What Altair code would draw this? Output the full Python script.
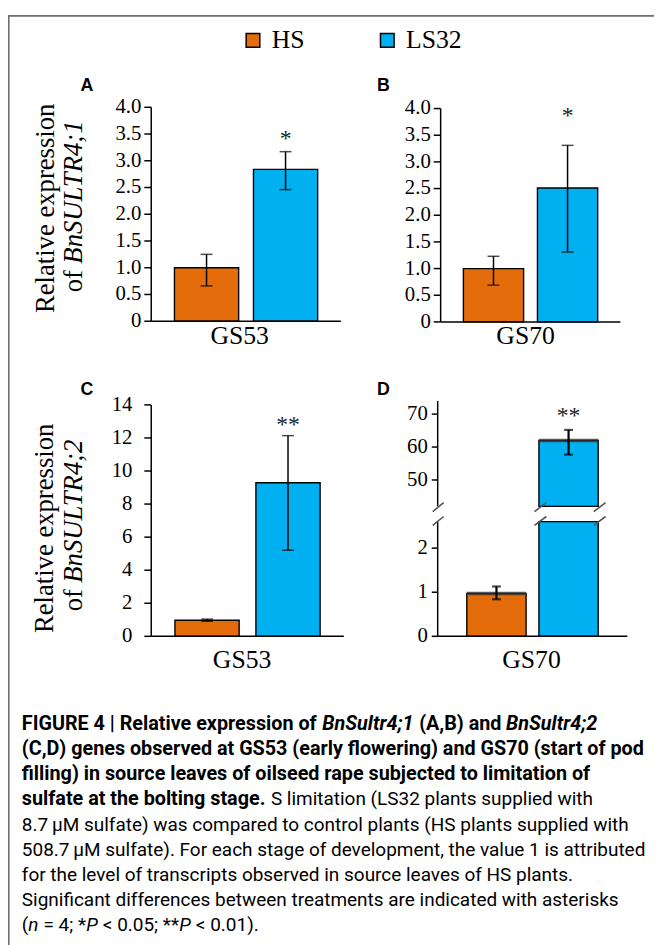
import altair as alt
import pandas as pd

# ---------------- data ----------------
treatments = ["HS", "LS32"]
bar_colors = ["#E46C0A", "#00B0F0"]

# Panel A: BnSULTR4;1, GS53
a_mean = [1.00, 2.84]
a_low = [0.66, 2.46]
a_high = [1.25, 3.17]
# Panel B: BnSULTR4;1, GS70
b_mean = [1.00, 2.51]
b_low = [0.69, 1.31]
b_high = [1.23, 3.31]
# Panel C: BnSULTR4;2, GS53
c_mean = [0.97, 9.29]
c_low = [0.91, 5.21]
c_high = [1.04, 12.14]
# Panel D: BnSULTR4;2, GS70
d_mean = [0.97, 62.0]
d_low = [0.84, 57.7]
d_high = [1.13, 65.2]

sig_ab = ["", "*"]
sig_cd = ["", "**"]

stages = ["GS53", "GS70"]
letters = ["A", "B", "C", "D"]
genes = ["BnSULTR4;1", "BnSULTR4;2"]
ylabel_main = "Relative expression"

ticks_ab = [0, 0.5, 1.0, 1.5, 2.0, 2.5, 3.0, 3.5, 4.0]
labels_ab = ["0", "0.5", "1.0", "1.5", "2.0", "2.5", "3.0", "3.5", "4.0"]
ticks_c = [0, 2, 4, 6, 8, 10, 12, 14]
labels_c = ["0", "2", "4", "6", "8", "10", "12", "14"]
ticks_d_low = [0, 1, 2]
labels_d_low = ["0", "1", "2"]
ticks_d_up = [50, 60, 70]
labels_d_up = ["50", "60", "70"]

caption = [
    [("FIGURE 4 | Relative expression of", "bold", "normal"), ("BnSultr4;1", "bold", "italic"),
     ("(A,B) and", "bold", "normal"), ("BnSultr4;2", "bold", "italic")],
    [("(C,D) genes observed at GS53 (early flowering) and GS70 (start of pod", "bold", "normal")],
    [("filling) in source leaves of oilseed rape subjected to limitation of", "bold", "normal")],
    [("sulfate at the bolting stage.", "bold", "normal"), ("S limitation (LS32 plants supplied with", "normal", "normal")],
    [("8.7\u2009\u03bcM sulfate) was compared to control plants (HS plants supplied with", "normal", "normal")],
    [("508.7\u2009\u03bcM sulfate). For each stage of development, the value 1 is attributed", "normal", "normal")],
    [("for the level of transcripts observed in source leaves of HS plants.", "normal", "normal")],
    [("Significant differences between treatments are indicated with asterisks", "normal", "normal")],
    [("(", "normal", "normal"), ("n", "normal", "italic"), ("= 4; *", "normal", "normal"), ("P", "normal", "italic"),
     ("< 0.05; **", "normal", "normal"), ("P", "normal", "italic"), ("< 0.01).", "normal", "normal")],
]
# segments that follow the previous one with a word space between them
cap_space = {(0, 1), (0, 2), (0, 3), (3, 1), (8, 2), (8, 4), (8, 6)}

# ---------------- layout ----------------
W, H = 654, 937
SERIF = "Liberation Serif"
SANS = "Liberation Sans"
CAPFONT = "Roboto"
CAP_BOLD = 20
CAP_REG = 19.2
TICKSIZE = 21

# approximate Roboto advance widths (em) to chain mixed-style caption segments
_w = {" ": .248, ".": .263, ",": .197, ";": .212, ":": .242, "(": .342, ")": .348, "|": .243,
      "*": .431, "=": .549, "<": .508, "\u2009": .12, "\u03bc": .57}
_w.update({c: .562 for c in "0123456789"})
_w.update(dict(zip("abcdefghijklmnopqrstuvwxyz",
                   [.544, .561, .523, .564, .53, .347, .561, .551, .243, .239, .507, .243, .876,
                    .552, .57, .561, .568, .338, .516, .327, .551, .484, .751, .496, .473, .496])))
_w.update(dict(zip("ABCDEFGHIJKLMNOPQRSTUVWXYZ",
                   [.653, .623, .651, .656, .568, .553, .681, .713, .272, .552, .627, .538, .873,
                    .713, .688, .631, .688, .616, .593, .597, .649, .637, .887, .627, .601, .599])))


def text_w(s, size, bold=False):
    return sum(_w.get(c, .55) for c in s) * size * (1.02 if bold else 1.0)


def P(v):
    return v - 8


_one = pd.DataFrame({"k": [0]})


def frame(mean, low, high, sig):
    return pd.DataFrame({"treatment": treatments, "mean": mean, "low": low,
                         "high": high, "sig": sig})


def txt(s, x, y, size, font=SERIF, weight="normal", style="normal", align="left",
        angle=0, baseline="alphabetic", color="black"):
    return alt.Chart(pd.DataFrame({"s": [s]})).mark_text(
        font=font, fontSize=size, fontWeight=weight, fontStyle=style, align=align,
        angle=angle, baseline=baseline, color=color
    ).encode(text="s:N", x=alt.value(P(x)), y=alt.value(P(y)))


def seg(x, y, x2, y2, color="#555", w=1.6):
    return alt.Chart(_one).mark_rule(color=color, strokeWidth=w).encode(
        x=alt.value(P(x)), y=alt.value(P(y)), x2=alt.value(P(x2)), y2=alt.value(P(y2)))


def panel(df, x0, x1, p_in, p_out, y_dom, y_pix, ticks, tick_labels, lab_gap, star_dy,
          legend=None, clamp=False, bars=None, errs=None, stars=True, x_axis=True,
          cap=12, err_w=1.5, tick_len=7, shade=None, bar_w=60):
    xs = alt.Scale(domain=treatments, range=[P(x0), P(x1)], paddingInner=p_in,
                   paddingOuter=p_out)
    ys = alt.Scale(domain=y_dom, range=[P(y_pix[0]), P(y_pix[1])], nice=False,
                   zero=False, clamp=clamp)
    X = alt.X("treatment:N", scale=xs, axis=None)
    color = alt.Color("treatment:N", scale=alt.Scale(domain=treatments, range=bar_colors),
                      legend=legend)
    bdf = df if bars is None else df[df.treatment.isin(bars)]
    edf = df if errs is None else df[df.treatment.isin(errs)]
    tdf = pd.DataFrame({"v": ticks, "lab": tick_labels})
    layers = [
        alt.Chart(bdf).mark_bar(stroke="black", strokeWidth=1.4).encode(
            x=X, y=alt.Y("mean:Q", scale=ys, axis=None), color=color),
    ]
    if shade:
        layers.append(alt.Chart(df[df.treatment.isin(shade)]).mark_tick(
            color="#333", thickness=3.5, size=bar_w, opacity=0.75).encode(
            x=X, y=alt.Y("mean:Q", scale=ys, axis=None)))
    layers += [
        alt.Chart(edf).mark_rule(color="black", strokeWidth=err_w).encode(
            x=X, y=alt.Y("low:Q", scale=ys, axis=None), y2="high:Q"),
        alt.Chart(edf).mark_tick(color="black", thickness=err_w, size=cap).encode(
            x=X, y=alt.Y("low:Q", scale=ys, axis=None)),
        alt.Chart(edf).mark_tick(color="black", thickness=err_w, size=cap).encode(
            x=X, y=alt.Y("high:Q", scale=ys, axis=None)),
        # y axis: domain line, ticks and labels
        alt.Chart(_one).mark_rule(color="black", strokeWidth=1.5).encode(
            x=alt.value(P(x0)), y=alt.YDatum(y_dom[0], scale=ys, axis=None),
            y2=alt.Y2Datum(y_dom[1])),
        alt.Chart(tdf).mark_rule(color="black", strokeWidth=1.5).encode(
            x=alt.value(P(x0) - tick_len), x2=alt.value(P(x0)),
            y=alt.Y("v:Q", scale=ys, axis=None)),
        alt.Chart(tdf).mark_text(font=SERIF, fontSize=TICKSIZE, align="right",
                                 baseline="middle", color="black").encode(
            x=alt.value(P(x0) - lab_gap), y=alt.Y("v:Q", scale=ys, axis=None),
            text="lab:N"),
    ]
    if x_axis:
        layers.append(alt.Chart(_one).mark_rule(color="black", strokeWidth=1.5).encode(
            x=alt.value(P(x0)), x2=alt.value(P(x1)),
            y=alt.YDatum(y_dom[0], scale=ys, axis=None)))
    if stars:
        layers.append(
            alt.Chart(edf).mark_text(font=SERIF, fontSize=24, baseline="alphabetic",
                                     dy=star_dy, color="#222").encode(
                x=X, y=alt.Y("high:Q", scale=ys, axis=None), text="sig:N"))
    return alt.layer(*layers)


legend = alt.Legend(orient="none", legendX=P(243), legendY=P(22), direction="horizontal",
                    title=None, symbolType="square", symbolSize=190,
                    symbolStrokeColor="black", symbolStrokeWidth=1.5, labelFont=SERIF,
                    labelFontSize=26, labelColor="black", labelOffset=6, columnPadding=70,
                    symbolOpacity=1)

pA = panel(frame(a_mean, a_low, a_high, sig_ab), 153, 345, 0.1875, 0.294,
           [0, 4], [319.3, 102.7], ticks_ab, labels_ab, 10, -6, legend=legend)
pB = panel(frame(b_mean, b_low, b_high, sig_ab), 446, 628, 0.187, 0.307,
           [0, 4], [320, 104], ticks_ab, labels_ab, 10, -23)
pC = panel(frame(c_mean, c_low, c_high, sig_cd), 153, 348, 0.207, 0.293,
           [0, 14], [638.3, 404], ticks_c, labels_c, 19, -4)
dfD = frame(d_mean, d_low, d_high, sig_cd)
pD_low = panel(dfD, 443, 635, 0.178, 0.404, [0, 2.6], [638.3, 522.2],
               ticks_d_low, labels_d_low, 10, 0, clamp=True, errs=["HS"], stars=False,
               cap=9, err_w=2.2, tick_len=6, shade=["HS"])
pD_up = panel(dfD, 443, 635, 0.178, 0.404, [42, 74], [506.7, 400],
              ticks_d_up, labels_d_up, 10, -7, clamp=True, bars=["LS32"], errs=["LS32"],
              x_axis=False, cap=9, err_w=2.2, tick_len=6, shade=["LS32"])

# broken-axis decorations for panel D
gap = alt.Chart(_one).mark_rect(color="white").encode(
    x=alt.value(P(541)), x2=alt.value(P(614)), y=alt.value(P(507.6)), y2=alt.value(P(521.4)))
breaks = [
    seg(438, 512, 449, 503), seg(438, 526, 449, 517),
    seg(541, 512, 553, 503), seg(541, 526, 553, 517),
    seg(601, 512, 613, 503), seg(601, 526, 613, 517),
]

border = alt.Chart(_one).mark_rect(filled=False, stroke="#6e6e6e", strokeWidth=1.6).encode(
    x=alt.value(0.8), x2=alt.value(900), y=alt.value(2.2), y2=alt.value(1300))

labels = [
    txt(letters[0], 88, 86, 18, font=SANS, weight="bold", align="center"),
    txt(letters[1], 388, 86, 18, font=SANS, weight="bold", align="center"),
    txt(letters[2], 88, 394, 18, font=SANS, weight="bold", align="center"),
    txt(letters[3], 388, 394, 18, font=SANS, weight="bold", align="center"),
]

xtitles = [
    txt(stages[0], 242.5, 342.5, 26, align="center"),
    txt(stages[1], 532, 342.5, 26, align="center"),
    txt(stages[0], 245, 670, 26, align="center"),
    txt(stages[1], 538, 670, 26, align="center"),
]

ytitles = []
for gene, bx1, cy, bx2, of_y in [(genes[0], 55, 205, 83, 290), (genes[1], 54, 529, 83, 613)]:
    ytitles.append(txt(ylabel_main, bx1, cy, 27, align="center", angle=270))
    ytitles.append(txt("of", bx2, of_y, 27, align="left", angle=270))
    ytitles.append(txt(gene, bx2, of_y - 29, 27, style="italic", align="left", angle=270))

# caption, segments chained with estimated widths
cap_layers = []
for i, line in enumerate(caption):
    y = 733 + 25.5 * i
    x = 22
    for j, (s, wt, st) in enumerate(line):
        size = CAP_BOLD if wt == "bold" else CAP_REG
        if (i, j) in cap_space:
            x += text_w(" ", size)
        cap_layers.append(txt(s, x, y, size, font=CAPFONT, weight=wt, style=st))
        x += text_w(s, size, wt == "bold")

chart = alt.layer(
    border, pA, pB, pC, pD_low, pD_up, gap, *breaks, *labels, *xtitles, *ytitles, *cap_layers
).resolve_scale(x="independent", y="independent").properties(
    width=W, height=H, padding=0, autosize=alt.AutoSizeParams(type="none"),
    background="white"
).configure_view(strokeWidth=0)

chart.save("out.html", embed_options={"renderer": "svg", "actions": False})
